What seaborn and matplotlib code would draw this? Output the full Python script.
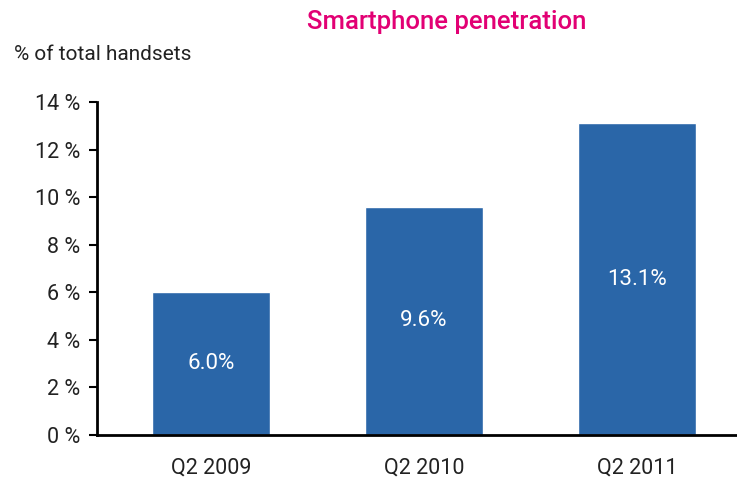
import matplotlib
matplotlib.use("Agg")
import matplotlib.pyplot as plt
import seaborn as sns
import pandas as pd
from matplotlib import font_manager

categories = ["Q2 2009", "Q2 2010", "Q2 2011"]
values = [6.0, 9.6, 13.1]
value_labels = ["6.0%", "9.6%", "13.1%"]
yticks = [0, 2, 4, 6, 8, 10, 12, 14]
ytick_labels = ["0 %", "2 %", "4 %", "6 %", "8 %", "10 %", "12 %", "14 %"]

sns.set_style("white")
names = {f.name for f in font_manager.fontManager.ttflist}
fam = "Liberation Sans Narrow" if "Liberation Sans Narrow" in names else "Roboto"
plt.rcParams['font.family'] = [fam, 'DejaVu Sans']

df = pd.DataFrame({"cat": categories, "val": values})
fig = plt.figure(figsize=(7.37, 4.84), dpi=100)
ax = fig.add_axes([97/737, 49/484, 1 - 97/737, (435-102)/484])
sns.barplot(data=df, x="cat", y="val", color="#2A66A8", saturation=1, width=0.555, ax=ax)
ax.set_xlim(-0.535, 2.47)
ax.set_ylim(0, 14)
ax.set_yticks(yticks)
ax.set_yticklabels(ytick_labels, fontsize=15.5, color="#222222")
ax.tick_params(axis='y', direction='out', length=6, width=1.5, color='black', left=True, pad=6)
ax.tick_params(axis='x', length=0, labelsize=15.5, pad=16, labelcolor="#222222")
ax.set_xlabel("")
ax.set_ylabel("")
for s in ["top", "right"]:
    ax.spines[s].set_visible(False)
for s in ["left", "bottom"]:
    ax.spines[s].set_color("black")
    ax.spines[s].set_linewidth(2)
for p, lab in zip(ax.patches, value_labels):
    ax.text(p.get_x() + p.get_width()/2, p.get_height()/2, lab, ha="center", va="center",
            color="white", fontsize=16)
fig.text(447/737, 1 - 22/484, "Smartphone penetration", ha="center", va="center",
         color="#E20074", fontsize=18.5, fontweight="medium")
fig.text(14/737, 1 - 55/484, "% of total handsets", ha="left", va="center",
         color="#222222", fontsize=15)
fig.savefig("out.png", dpi=100)
